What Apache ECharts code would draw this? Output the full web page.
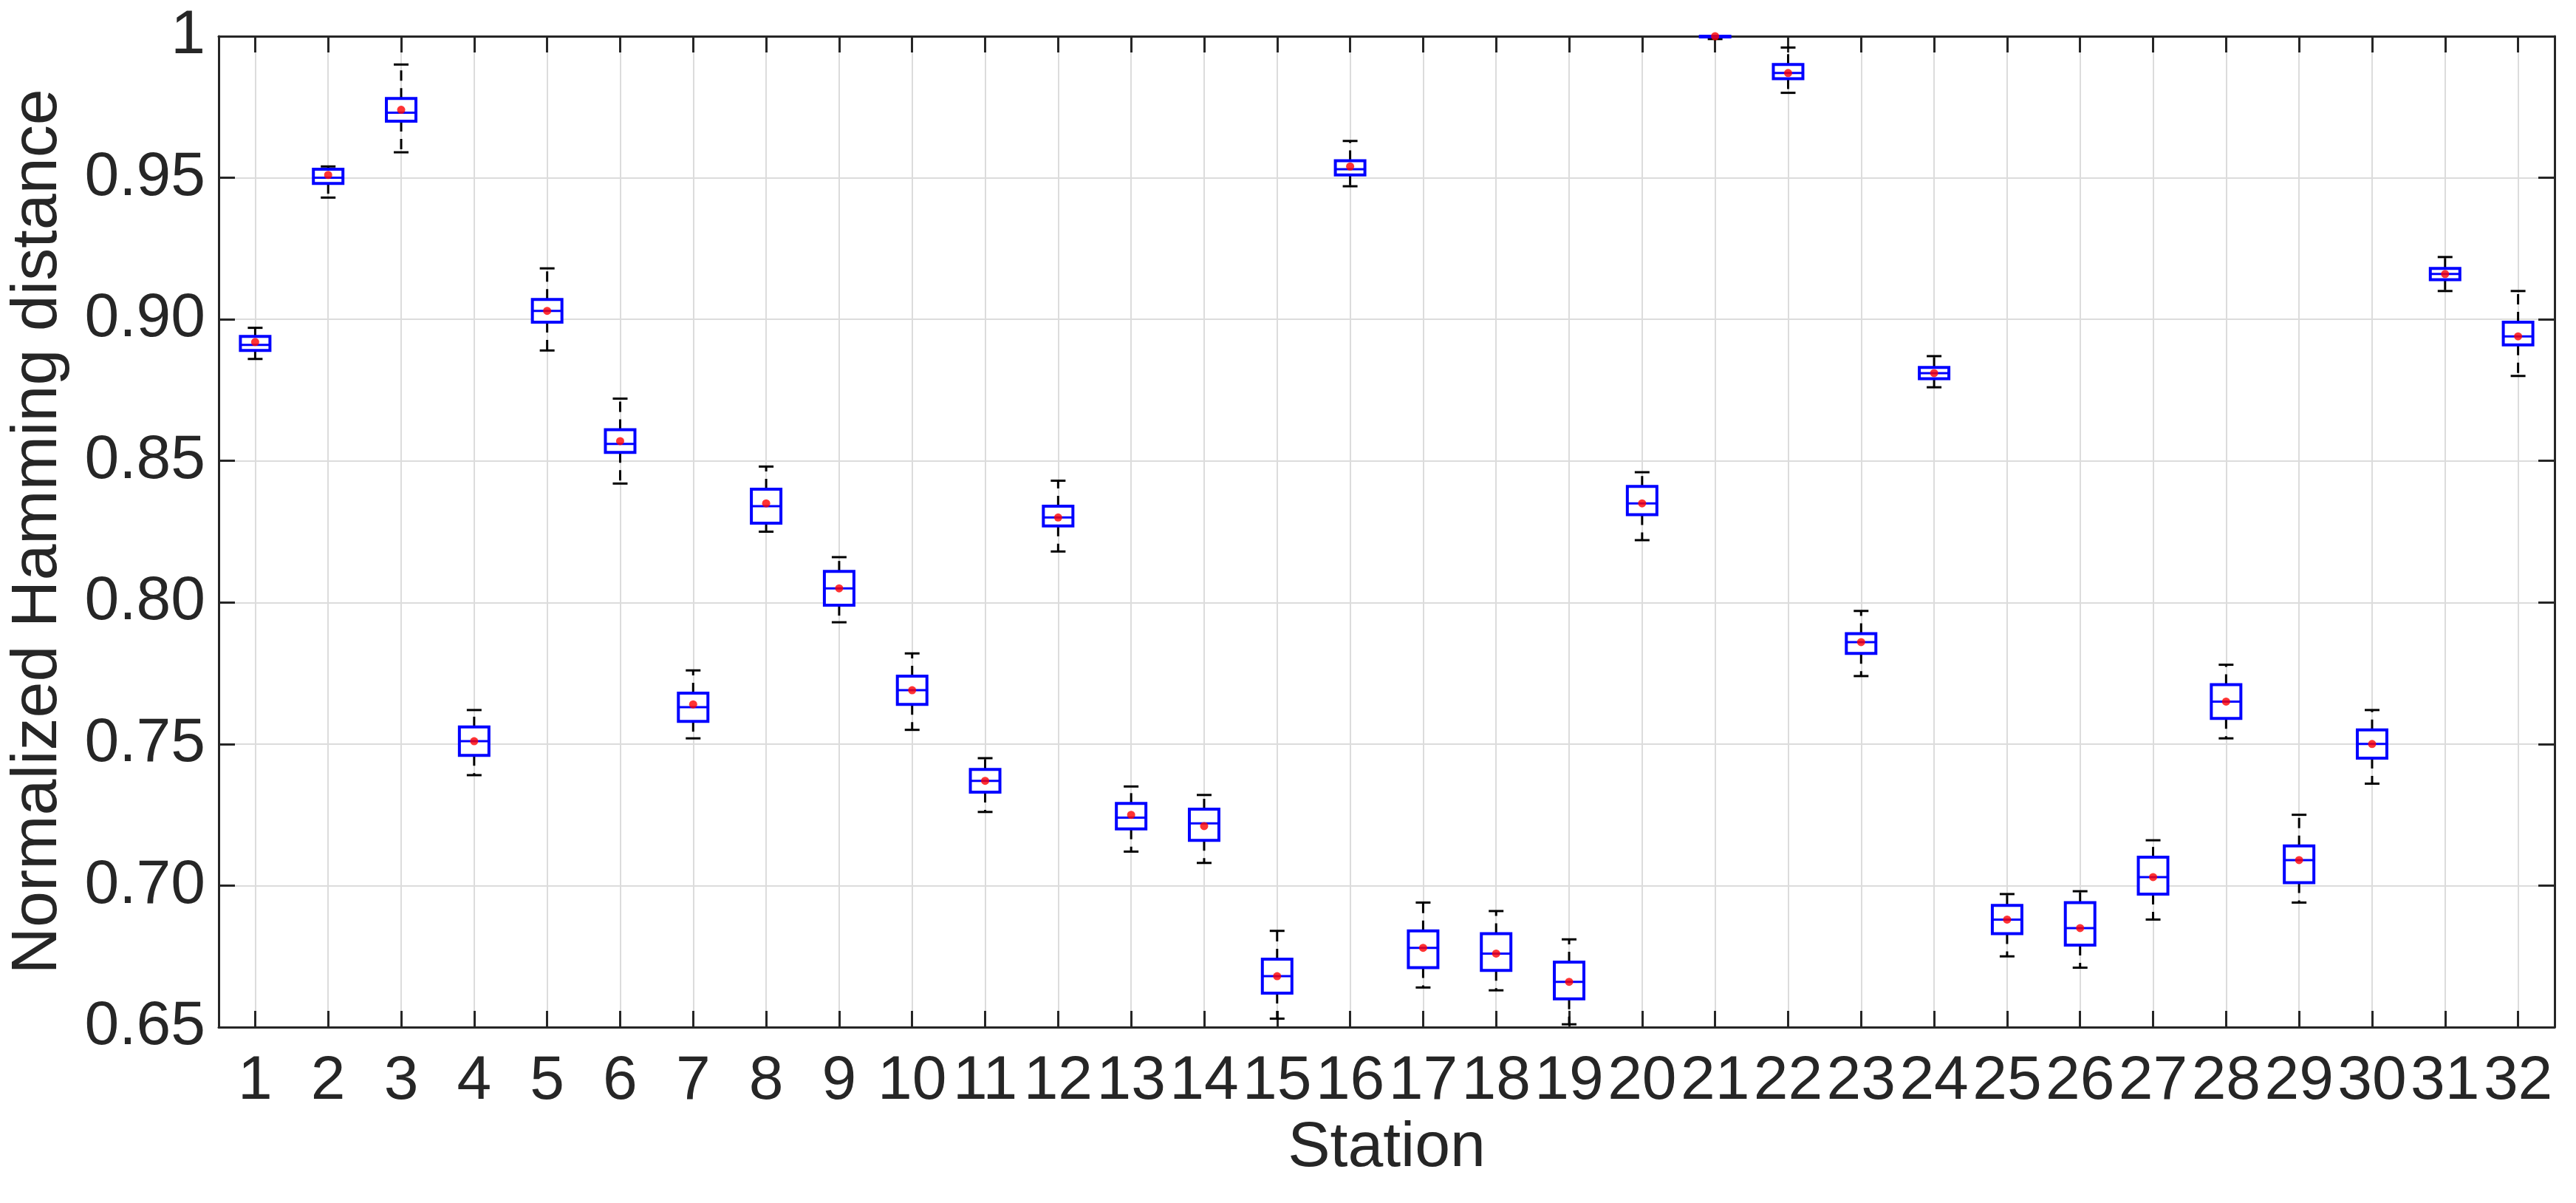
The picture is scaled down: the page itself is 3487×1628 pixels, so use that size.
<!DOCTYPE html>
<html>
<head>
<meta charset="utf-8">
<script src="https://cdn.jsdelivr.net/npm/echarts@6/dist/echarts.min.js"></script>
<style>html,body{margin:0;padding:0;background:#fff}#c{width:3487px;height:1628px}</style>
</head>
<body>
<div id="c"></div>
<script>
// stations 1..32
var stations = [];
for (var s = 1; s <= 32; s++) stations.push(s);
// [lower whisker, q1, median, q3, upper whisker]
var boxes = [
  [0.886, 0.889, 0.891, 0.894, 0.897],
  [0.943, 0.948, 0.950, 0.953, 0.954],
  [0.959, 0.970, 0.973, 0.978, 0.990],
  [0.739, 0.746, 0.751, 0.756, 0.762],
  [0.889, 0.899, 0.903, 0.907, 0.918],
  [0.842, 0.853, 0.856, 0.861, 0.872],
  [0.752, 0.758, 0.763, 0.768, 0.776],
  [0.825, 0.828, 0.834, 0.840, 0.848],
  [0.793, 0.799, 0.805, 0.811, 0.816],
  [0.755, 0.764, 0.769, 0.774, 0.782],
  [0.726, 0.733, 0.737, 0.741, 0.745],
  [0.818, 0.827, 0.830, 0.834, 0.843],
  [0.712, 0.720, 0.724, 0.729, 0.735],
  [0.708, 0.716, 0.722, 0.727, 0.732],
  [0.653, 0.662, 0.668, 0.674, 0.684],
  [0.947, 0.951, 0.953, 0.956, 0.963],
  [0.664, 0.671, 0.678, 0.684, 0.694],
  [0.663, 0.670, 0.676, 0.683, 0.691],
  [0.651, 0.660, 0.666, 0.673, 0.681],
  [0.822, 0.831, 0.835, 0.841, 0.846],
  [0.999, 1.000, 1.000, 1.000, 1.000],
  [0.980, 0.985, 0.987, 0.990, 0.996],
  [0.774, 0.782, 0.786, 0.789, 0.797],
  [0.876, 0.879, 0.881, 0.883, 0.887],
  [0.675, 0.683, 0.688, 0.693, 0.697],
  [0.671, 0.679, 0.685, 0.694, 0.698],
  [0.688, 0.697, 0.703, 0.710, 0.716],
  [0.752, 0.759, 0.765, 0.771, 0.778],
  [0.694, 0.701, 0.709, 0.714, 0.725],
  [0.736, 0.745, 0.750, 0.755, 0.762],
  [0.910, 0.914, 0.916, 0.918, 0.922],
  [0.880, 0.891, 0.894, 0.899, 0.910]
];
var means = [0.892, 0.951, 0.974, 0.751, 0.903, 0.857, 0.764, 0.835, 0.805, 0.769, 0.737, 0.830,
  0.725, 0.721, 0.668, 0.954, 0.678, 0.676, 0.666, 0.835, 1.000, 0.987, 0.786, 0.881,
  0.688, 0.685, 0.703, 0.765, 0.709, 0.750, 0.916, 0.894];

var ink = '#262626';
var font = 'Liberation Sans, Arial, sans-serif';
var chart = echarts.init(document.getElementById('c'), null, { renderer: 'canvas' });

function renderBox(params, api) {
  var x = api.value(0);
  var v = [api.value(1), api.value(2), api.value(3), api.value(4), api.value(5)];
  var p = v.map(function(d) { return api.coord([x, d]); });
  var cx = p[0][0], hw = 20, cw = 10;
  var dash = { stroke: '#000', lineWidth: 3, lineDash: [14, 10] };
  return {
    type: 'group',
    children: [
      { type: 'line', shape: { x1: cx, y1: p[3][1], x2: cx, y2: p[4][1] }, style: dash },
      { type: 'line', shape: { x1: cx, y1: p[1][1], x2: cx, y2: p[0][1] }, style: dash },
      { type: 'line', shape: { x1: cx - cw, y1: p[4][1], x2: cx + cw, y2: p[4][1] }, style: { stroke: '#000', lineWidth: 3 } },
      { type: 'line', shape: { x1: cx - cw, y1: p[0][1], x2: cx + cw, y2: p[0][1] }, style: { stroke: '#000', lineWidth: 3 } },
      { type: 'rect', shape: { x: cx - hw, y: p[3][1], width: 2 * hw, height: Math.max(p[1][1] - p[3][1], 1) }, style: { fill: '#fff', stroke: '#0000ff', lineWidth: 4 } },
      { type: 'line', shape: { x1: cx - hw, y1: p[2][1], x2: cx + hw, y2: p[2][1] }, style: { stroke: '#0000ff', lineWidth: 3 } }
    ]
  };
}

var boxData = stations.map(function(s, i) { return [s].concat(boxes[i]); });
var meanData = stations.map(function(s, i) { return [s, means[i]]; });

var axisLine = { lineStyle: { color: ink, width: 3 } };
var yTick = { inside: true, length: 22, lineStyle: { color: ink, width: 3 } };

chart.setOption({
  animation: false,
  grid: { left: 296, right: 29, top: 49, bottom: 238, show: false },
  xAxis: [{
    type: 'value', min: 0.5, max: 32.5,
    name: 'Station', nameLocation: 'middle', nameGap: 100,
    nameTextStyle: { color: ink, fontSize: 86, fontFamily: font },
    axisLine: axisLine,
    axisTick: { inside: true, length: 22, lineStyle: { color: ink, width: 3 }, customValues: stations },
    axisLabel: { customValues: stations, color: ink, fontSize: 84, fontFamily: font, margin: 32 },
    splitLine: { show: true, lineStyle: { color: '#dcdcdc', width: 2 } }
  }, {
    type: 'value', min: 0.5, max: 32.5, position: 'top',
    axisLine: axisLine,
    axisTick: { inside: true, length: 22, lineStyle: { color: ink, width: 3 }, customValues: stations },
    axisLabel: { show: false, customValues: stations },
    splitLine: { show: false }
  }],
  yAxis: [{
    type: 'value', min: 0.65, max: 1, interval: 0.05,
    name: 'Normalized Hamming distance', nameLocation: 'middle', nameGap: 200,
    nameTextStyle: { color: ink, fontSize: 88, fontFamily: font },
    axisLine: axisLine,
    axisTick: yTick,
    axisLabel: { color: ink, fontSize: 84, fontFamily: font, margin: 18,
      formatter: function(v) { return Math.abs(v - 1) < 1e-9 ? '1' : v.toFixed(2); } },
    splitLine: { show: true, lineStyle: { color: '#dcdcdc', width: 2 } }
  }, {
    type: 'value', min: 0.65, max: 1, interval: 0.05, position: 'right',
    axisLine: axisLine,
    axisTick: yTick,
    axisLabel: { show: false },
    splitLine: { show: false }
  }],
  series: [{
    type: 'custom',
    renderItem: renderBox,
    data: boxData,
    encode: { x: 0, y: [1, 2, 3, 4, 5] },
    clip: false,
    z: 3
  }, {
    type: 'scatter',
    data: meanData,
    symbol: 'circle',
    symbolSize: 11,
    itemStyle: { color: '#ff0000' },
    z: 4
  }]
});
</script>
</body>
</html>
